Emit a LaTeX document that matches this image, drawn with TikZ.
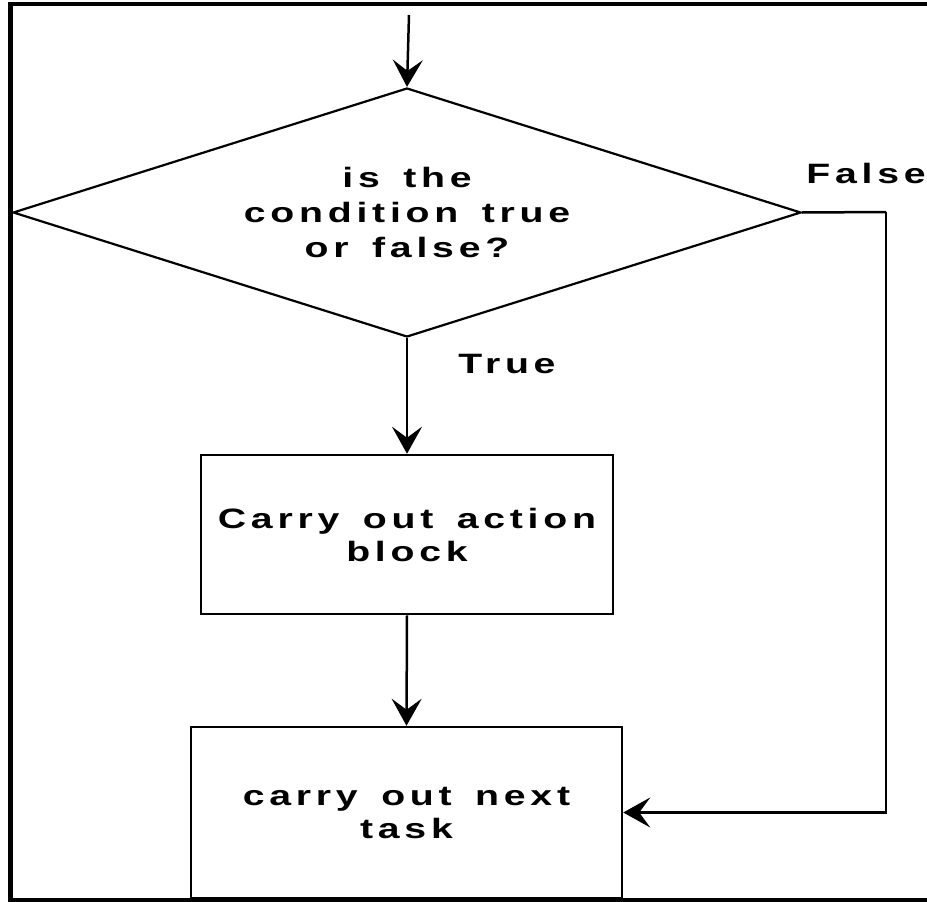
\documentclass[tikz,border=0pt]{standalone}
\usepackage{fontspec}
\setmainfont{Liberation Sans}[FakeStretch=1.4, LetterSpace=17, WordSpace=1.5]
\usepackage{tikz}
\usetikzlibrary{arrows.meta,shapes.geometric}

\begin{document}
\begin{tikzpicture}[
  x=1pt, y=-1pt,
  dbox/.style ={draw, diamond, line width=2.2pt, inner sep=0pt,
                minimum width=788pt, minimum height=249pt, aspect=3.16,
                font=\fontsize{28}{35}\selectfont\bfseries, align=center},
  abox/.style ={draw, rectangle, line width=2.5pt, inner sep=0pt,
                font=\fontsize{28}{33}\selectfont\bfseries, align=center},
  arr/.style  ={-{Stealth[length=27pt,width=30pt,inset=11pt]}, line width=2.5pt},
  lnk/.style  ={line width=2.5pt},
  lbl/.style  ={font=\fontsize{28}{33}\selectfont\bfseries, inner sep=0pt, anchor=base}
]
  \useasboundingbox (0,0) rectangle (927,902);
  %% ── Frame (open on the right) ─────────────────────────────────────────
  \draw[line width=4.5pt] (927,4) -- (10.5,4) -- (10.5,900) -- (927,900);

  %% ── Shapes ─────────────────────────────────────────────────────────────
  \coordinate (entry) at (409,15);
  \node[dbox] (cond) at (407,212.5) {is the\\condition true\\or false?};
  \node[abox, minimum width=412pt, minimum height=159pt] (act)  at (407,534.5)
    {Carry out action\\block};
  \node[abox, minimum width=431pt, minimum height=171pt] (next) at (406.5,812.5)
    {carry out next\\task};
  \coordinate (rturn) at (886,212);

  %% ── Labels ─────────────────────────────────────────────────────────────
  \node[lbl] (tlbl) at (507,373) {True};
  \node[lbl] (flbl) at (866,183) {False};

  %% ── Connectors ─────────────────────────────────────────────────────────
  \draw[arr] (entry) -- (cond.north);
  \draw[arr] (cond.south) -- (act.north);
  \draw[arr] (act.south)  -- (next.north);
  \draw[lnk] (cond.east) -- (rturn);
  \draw[arr] (rturn) |- (next.east);

\end{tikzpicture}
\end{document}
